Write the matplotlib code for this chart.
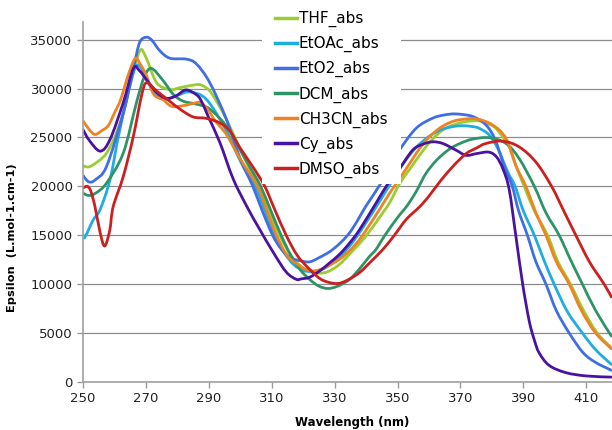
import matplotlib
matplotlib.use("Agg")
import matplotlib.pyplot as plt
from matplotlib.lines import Line2D
from matplotlib.path import Path
from matplotlib.patches import PathPatch, Rectangle

# absorption spectra (wavelength nm, epsilon)
wl_thf = [250, 252, 255, 257.5, 260, 262.8, 265.5, 268.1, 270, 273.4, 277.6, 281, 286.1, 288, 290.3,
          293, 295.6, 300, 303, 306, 309, 312.5, 316, 319, 322, 325.3, 328, 331.6, 336, 340, 344,
          347.5, 350.6, 354, 357, 360.5, 364.4, 368, 371.8, 376, 378.5, 381.3, 385.5, 388, 390.3,
          393.5, 397.7, 401, 405, 409, 413.5, 418]
eps_thf = [22100, 22000, 22600, 23400, 25000, 27500, 31000, 33870, 33200, 30600, 29900, 30100, 30400,
           30300, 29760, 28400, 26850, 23800, 21800, 20000, 17600, 15000, 13000, 11900, 11300, 11120,
           11300, 12040, 13500, 14930, 16700, 18330, 20240, 21800, 23170, 24600, 25760, 26300, 26620,
           26690, 26400, 25930, 24030, 21800, 20000, 17500, 15000, 12300, 10000, 7400, 5000, 3500]

wl_etoac = [250, 250.6, 253.3, 255.4, 258.6, 261.7, 266, 268, 270, 273.4, 276.5, 280.8, 284, 289.2,
            295.6, 300, 305, 308, 311, 314, 317, 320, 323, 326, 329, 332, 336, 340, 344, 348, 352,
            356, 360, 364, 367.5, 370.7, 374, 376, 379.2, 382, 385, 387.4, 390, 393.5, 396.5, 399.8,
            404, 408.8, 413, 418]
eps_etoac = [15030, 14800, 16600, 17600, 20700, 25800, 31600, 32300, 31000, 29250, 28900, 29400, 29650,
             28900, 25700, 22600, 19800, 17400, 15000, 13200, 12000, 11400, 11300, 11500, 12100, 12900,
             14400, 16300, 18300, 20400, 22400, 24000, 25100, 25800, 26100, 26200, 26100, 25930, 25240,
             23800, 21500, 20000, 17500, 15000, 12500, 10000, 7200, 5000, 3300, 1800]

wl_eto2 = [250, 251.9, 254, 257.5, 262.8, 266, 268, 270.2, 272, 274.4, 277.6, 282.9, 286.1, 290.3,
           295.6, 300, 304, 307, 310.3, 313, 316, 319, 322, 325, 329.5, 334.8, 340, 344.3, 347.5,
           350.6, 355.9, 361.2, 365, 368.6, 373.9, 378.1, 381, 384, 386.5, 388.5, 391.3, 394, 397.2,
           400.5, 404.6, 409, 413, 418]
eps_eto2 = [21100, 20450, 20700, 22050, 27500, 32000, 34700, 35240, 34900, 33870, 33100, 33000, 32500,
            30600, 26850, 22800, 20000, 17500, 15000, 13600, 12700, 12400, 12280, 12700, 13570, 15270,
            18000, 20100, 22000, 23700, 25930, 26970, 27300, 27400, 27140, 26280, 24800, 22000, 20000,
            17500, 15000, 12300, 10000, 7300, 5000, 3000, 2000, 1200]

wl_dcm = [250, 251.8, 254, 257.5, 262.8, 267, 269.5, 271.8, 275.5, 278.7, 281.9, 286.1, 290.3, 296,
          300, 303, 306.5, 310, 313, 316, 319, 322, 325, 327.9, 331, 334.8, 338, 341, 343.2, 346, 350,
          353, 356, 359, 362.5, 366.5, 370, 373.9, 379.2, 384.5, 388.7, 393.5, 397.2, 401.4, 405,
          408.8, 413, 418]
eps_dcm = [19300, 19070, 19300, 20340, 23400, 28560, 31200, 32050, 30800, 29400, 28700, 28400, 27900,
           26000, 23700, 22000, 20000, 17300, 15000, 13000, 11500, 10500, 9800, 9560, 9800, 10500,
           11600, 12800, 13570, 15000, 16800, 18000, 19500, 21300, 22700, 23800, 24400, 24830, 24970,
           24380, 22830, 20000, 17300, 15000, 12500, 10000, 7300, 4700]

wl_ch3cn = [250, 252, 253.8, 256, 258, 260, 262, 264.5, 266.6, 268, 270.2, 272.5, 275.3, 278, 281,
            284.7, 287.5, 290, 292, 295.6, 300, 305.5, 308.5, 311.5, 315, 318.8, 321, 323.7, 327,
            331.6, 335, 338, 341, 344.3, 347.5, 350.6, 354, 357, 360, 363.3, 366.5, 369.6, 375, 380.2,
            384.5, 387.6, 390.8, 394, 397.2, 400.5, 404.6, 408.5, 413, 418]
eps_ch3cn = [26700, 25800, 25300, 25700, 26200, 27500, 28900, 31500, 33080, 32600, 31300, 29400, 28900,
             28200, 28200, 28450, 28560, 27700, 26700, 25300, 22800, 20000, 17500, 15000, 12900, 11900,
             11500, 11360, 11700, 12550, 13500, 14600, 16000, 17650, 19300, 20760, 22400, 23860, 25000,
             25930, 26500, 26800, 26900, 26280, 24900, 22140, 20000, 17300, 15000, 12300, 10000, 7300,
             5000, 3400]

wl_cy = [250, 252, 255.5, 258.6, 262.8, 266, 268, 270.2, 273.4, 276.5, 279.6, 282.7, 285.9, 287.5, 290,
         293.5, 297.7, 302, 306, 310.4, 314.6, 317.8, 319.5, 322, 325.3, 328.5, 331.6, 335, 338, 343.2,
         347, 350.6, 354.8, 358, 361.2, 364.4, 368.6, 371.8, 375, 379, 381.5, 383.5, 385.5, 387.6,
         389.8, 391.9, 393.5, 395, 398.2, 403.5, 410, 418]
eps_cy = [25800, 24700, 23600, 24800, 28560, 32050, 31800, 30900, 29600, 29000, 29250, 29860, 29400,
          28800, 27000, 24500, 20800, 18000, 15700, 13300, 11250, 10500, 10550, 10700, 11360, 12200,
          13060, 14300, 15600, 18300, 20300, 21800, 23700, 24300, 24550, 24380, 23700, 23170, 23340,
          23500, 23000, 21800, 19700, 15000, 10000, 6200, 4300, 3000, 1700, 960, 620, 500]

wl_dmso = [250, 251.4, 252.5, 253.8, 255.5, 256.9, 258.5, 259.6, 262.8, 266, 268.6, 270.2, 273.4, 277.6,
           280.8, 285, 289.2, 293.4, 296.7, 300, 304, 307.8, 311, 314.6, 318, 321.5, 325.2, 328, 331.1,
           334, 338, 341.5, 345.4, 349, 352.8, 357, 360, 363.3, 367.5, 371.8, 375, 378.1, 383.4, 388.7,
           394, 399, 403, 406.7, 411, 415.7, 418]
eps_dmso = [19830, 20000, 19500, 17940, 15200, 13900, 15500, 17940, 21000, 25100, 29250, 30600, 29760,
            28700, 27900, 27100, 26950, 26500, 25650, 23900, 22000, 20000, 17600, 15000, 13000, 11700,
            10600, 10200, 10070, 10400, 11200, 12300, 13570, 15000, 16630, 17900, 19000, 20410, 22000,
            23340, 23900, 24380, 24620, 24030, 22480, 20000, 17400, 15000, 12300, 10000, 8700]

labels = ["THF_abs", "EtOAc_abs", "EtO2_abs", "DCM_abs", "CH3CN_abs", "Cy_abs", "DMSO_abs"]
colors = ["#9ACD32", "#1EADE0", "#3F6FE2", "#2E9468", "#F08222", "#4A12A0", "#CC1F1F"]
series = [(wl_thf, eps_thf), (wl_etoac, eps_etoac), (wl_eto2, eps_eto2), (wl_dcm, eps_dcm),
          (wl_ch3cn, eps_ch3cn), (wl_cy, eps_cy), (wl_dmso, eps_dmso)]

x_ticks = [250, 270, 290, 310, 330, 350, 370, 390, 410]
y_ticks = [0, 5000, 10000, 15000, 20000, 25000, 30000, 35000]


def smooth_path(xs, ys):
    # Excel-style smoothed line: bezier segments through every data point
    pts = list(zip(xs, ys))
    verts = [pts[0]]
    codes = [Path.MOVETO]
    n = len(pts)
    for i in range(n - 1):
        p0 = pts[max(i - 1, 0)]
        p1 = pts[i]
        p2 = pts[i + 1]
        p3 = pts[min(i + 2, n - 1)]
        c1 = (p1[0] + (p2[0] - p0[0]) / 6, p1[1] + (p2[1] - p0[1]) / 6)
        c2 = (p2[0] - (p3[0] - p1[0]) / 6, p2[1] - (p3[1] - p1[1]) / 6)
        verts += [c1, c2, p2]
        codes += [Path.CURVE4] * 3
    return Path(verts, codes)


fig = plt.figure(figsize=(6.12, 4.30), dpi=100)
ax = fig.add_axes([83 / 612, 1 - 382 / 430, 1 - 83 / 612, (382 - 22) / 430])

handles = []
for (wl, eps), lab, col in zip(series, labels, colors):
    ax.add_patch(PathPatch(smooth_path(wl, eps), fill=False, edgecolor=col, lw=2.0,
                           capstyle="round", joinstyle="round"))
    handles.append(Line2D([0], [0], color=col, lw=2.5))

ax.set_xlim(250, 418.2)
ax.set_ylim(0, 36800)
ax.set_xticks(x_ticks)
ax.set_yticks(y_ticks)
ax.tick_params(labelsize=9.5, colors="#9a9a9a", labelcolor="#222222", length=4, width=1)
ax.yaxis.grid(True, color="#8c8c8c", lw=0.9)
ax.set_axisbelow(True)
for s in ["top", "right"]:
    ax.spines[s].set_visible(False)
for s in ["left", "bottom"]:
    ax.spines[s].set_color("#a0a0a0")
    ax.spines[s].set_linewidth(1.2)

ax.set_xlabel("Wavelength (nm)", fontsize=8.5, fontweight="bold")
ax.xaxis.set_label_coords((352 - 83) / (612 - 83), -0.095)
ax.set_ylabel("Epsilon  (L.mol-1.cm-1)", fontsize=8.2, fontweight="bold")
ax.yaxis.set_label_coords(-(83 - 17) / (612 - 83), 0.40)

# white legend box, wider than its text as in the original
ax.add_patch(Rectangle((262 / 612, 1 - 184 / 430), (401 - 262) / 612, 184 / 430,
                       transform=fig.transFigure, facecolor="white", edgecolor="none",
                       clip_on=False, zorder=4))
leg = ax.legend(handles, labels, loc="upper left", bbox_to_anchor=(275 / 612, 1 - 11 / 430),
                bbox_transform=fig.transFigure, fontsize=11, frameon=False, handlelength=1.45,
                handletextpad=0.1, labelspacing=0.585, borderpad=0, borderaxespad=0)
leg.set_zorder(5)

fig.savefig("out.png", dpi=100)
